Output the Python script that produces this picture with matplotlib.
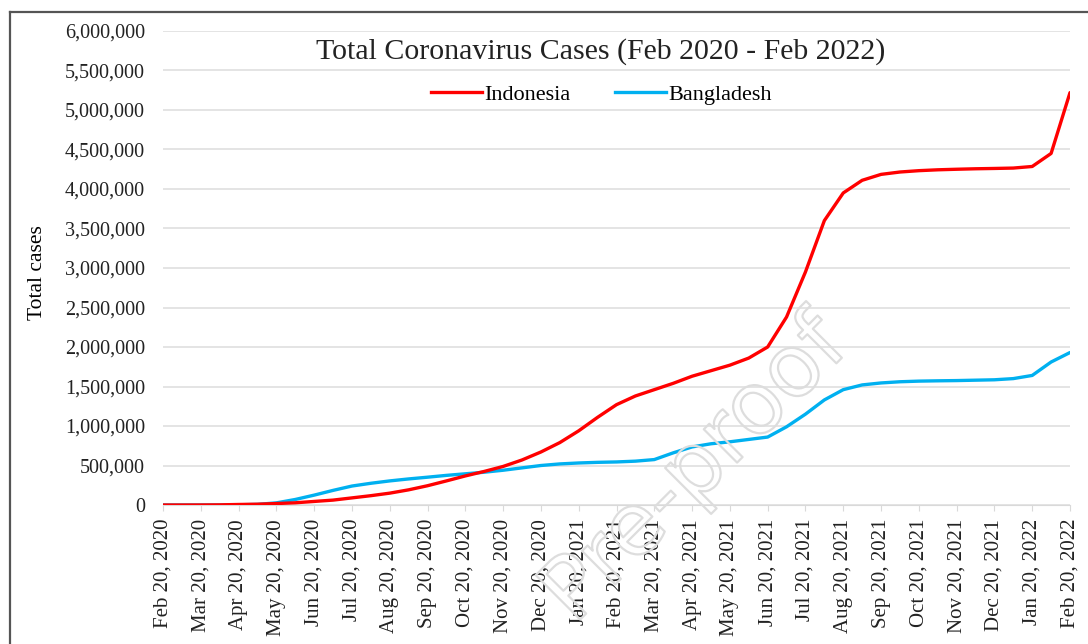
"""Total coronavirus cases, Indonesia vs Bangladesh, Feb 2020 - Feb 2022."""
import matplotlib.pyplot as plt
import numpy as np
from matplotlib.lines import Line2D
from matplotlib import patheffects
from matplotlib.ticker import FuncFormatter

# month labels on the category axis
month_labels = [
    "Feb 20, 2020", "Mar 20, 2020", "Apr 20, 2020", "May 20, 2020",
    "Jun 20, 2020", "Jul 20, 2020", "Aug 20, 2020", "Sep 20, 2020",
    "Oct 20, 2020", "Nov 20, 2020", "Dec 20, 2020", "Jan 20, 2021",
    "Feb 20, 2021", "Mar 20, 2021", "Apr 20, 2021", "May 20, 2021",
    "Jun 20, 2021", "Jul 20, 2021", "Aug 20, 2021", "Sep 20, 2021",
    "Oct 20, 2021", "Nov 20, 2021", "Dec 20, 2021", "Jan 20, 2022",
    "Feb 20, 2022",
]

# half-month sample points, in months after Feb 20, 2020
t_months = [i * 0.5 for i in range(49)]

# cumulative cases (thousands)
indonesia_k = [
    0, 0, 0.4, 1.8, 6.6, 10, 18.5, 28, 45, 62, 90, 118, 150, 192, 244, 305,
    368, 425, 488, 570, 671, 790, 939, 1110, 1270, 1380, 1460, 1540, 1630,
    1700, 1770, 1860, 2000, 2380, 2950, 3600, 3950, 4110, 4185, 4215, 4232,
    4243, 4250, 4256, 4260, 4265, 4285, 4450, 5220,
]
bangladesh_k = [
    0, 0, 0.02, 0.3, 2.9, 8, 27, 70, 125, 185, 240, 275, 305, 330, 352, 375,
    395, 415, 440, 470, 500, 520, 532, 540, 545, 555, 575, 660, 735, 775,
    800, 830, 860, 990, 1150, 1330, 1460, 1520, 1545, 1560, 1568, 1572,
    1575, 1580, 1585, 1600, 1640, 1810, 1930,
]

plt.rcParams["font.family"] = ["Liberation Serif", "DejaVu Serif"]

fig = plt.figure(figsize=(10.88, 6.44), dpi=100)
ax = fig.add_axes([163 / 1088, 1 - 505 / 644, (1070 - 163) / 1088, (505 - 31) / 644])

# watermark of the journal proof, behind the data
fig.text(0.64, 0.27, "Pre-proof", fontsize=62, rotation=45, family="DejaVu Sans",
         ha="center", va="center", color="none", zorder=0,
         path_effects=[patheffects.withStroke(linewidth=1.6, foreground="#dddddd")])
ax.patch.set_alpha(0)

t = np.array(t_months)
ax.plot(t, np.array(bangladesh_k) * 1000, color="#00b0f0", lw=2.4, zorder=3,
        solid_capstyle="round")
ax.plot(t, np.array(indonesia_k) * 1000, color="#ff0000", lw=2.4, zorder=4,
        solid_capstyle="round")

ax.set_xlim(0, 24)
ax.set_ylim(0, 6_000_000)
ax.set_yticks(np.arange(0, 6_000_001, 500_000))
ax.yaxis.set_major_formatter(FuncFormatter(lambda v, _: f"{int(v):,}"))
ax.set_xticks(range(len(month_labels)))
ax.set_xticklabels(month_labels, rotation=90, fontsize=15)
ax.tick_params(axis="y", length=0, labelsize=14.5, pad=13, colors="#222222")
ax.tick_params(axis="x", length=4, color="#d9d9d9", pad=6, colors="#222222")
ax.grid(axis="y", color="#dcdcdc", lw=1.1)
ax.set_axisbelow(True)
for side in ("top", "right", "left"):
    ax.spines[side].set_visible(False)
ax.spines["bottom"].set_color("#d9d9d9")
ax.set_ylabel("Total cases", fontsize=15.5)
ax.yaxis.set_label_coords(-0.128, 0.49)

ax.set_title("Total Coronavirus Cases (Feb 2020 - Feb 2022)", fontsize=21.5,
             y=0.925, x=0.483, color="#222222")

handles = [Line2D([], [], color="#ff0000", lw=2.4),
           Line2D([], [], color="#00b0f0", lw=2.4)]
ax.legend(handles, ["Indonesia", "Bangladesh"], loc="upper center",
          bbox_to_anchor=(0.483, 0.93), ncol=2, frameon=False, fontsize=16,
          handlelength=2.3, handletextpad=0.1, columnspacing=2.0)

# outer chart frame (left and top edges visible)
fig.add_artist(Line2D([10 / 1088, 10 / 1088], [0, 1 - 12 / 644], color="#555555", lw=1.6))
fig.add_artist(Line2D([10 / 1088, 1], [1 - 12 / 644, 1 - 12 / 644], color="#555555", lw=1.6))

fig.savefig("out.png", dpi=100)
